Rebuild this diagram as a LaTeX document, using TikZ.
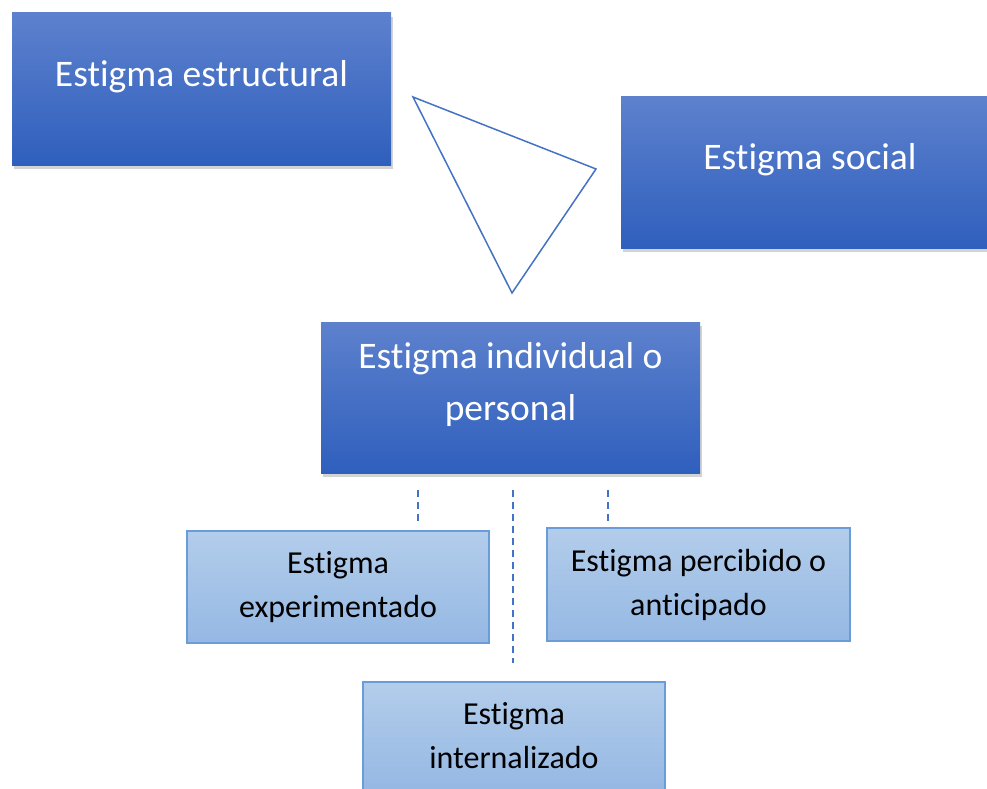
\documentclass[tikz,border=0pt]{standalone}
\usepackage{fontspec}
\setmainfont[RawFeature={-liga;-clig;-calt;-dlig}]{Carlito}
\usetikzlibrary{shadows}
\definecolor{darktop}{HTML}{5D81CD}
\definecolor{darkbot}{HTML}{2F5FBD}
\definecolor{lighttop}{HTML}{B3CDEB}
\definecolor{lightbot}{HTML}{95B8E3}
\definecolor{lightline}{HTML}{6A9CDA}
\definecolor{accent}{HTML}{4472C4}
\begin{document}
\begin{tikzpicture}
  [x=1pt,y=-1pt]

  \tikzstyle{darkbox} = [rectangle, draw=none, top color=darktop, bottom color=darkbot,
                         drop shadow={opacity=0.35, shadow xshift=2pt, shadow yshift=-4pt}]
  \tikzstyle{darktext} = [text=white, align=center, font=\fontsize{37.5}{52}\selectfont]
  \tikzstyle{lightbox} = [rectangle, draw=lightline, line width=1.2pt, top color=lighttop,
                          bottom color=lightbot, align=center,
                          font=\fontsize{32}{44}\selectfont]
  \tikzstyle{joint}   = [accent, line width=1.2pt, dash pattern=on 7pt off 5pt]
  \tikzstyle{tri}     = [accent, line width=1.5pt, line join=miter]

  \useasboundingbox (0,0) rectangle (987,789);

  \node[darkbox, minimum width=379, minimum height=152] (estr) at (201.5,89) {};
  \node[darktext] (estrt) at ([yshift=12]estr.center) {Estigma estructural};

  \node[darkbox, minimum width=370, minimum height=151] (soc) at (806,172.5) {};
  \node[darktext] (soct) at (810,160) {Estigma social};

  \node[darkbox, minimum width=379, minimum height=151] (indiv) at (510.5,397.5) {};
  \node[darktext] (indivt) at ([yshift=13]indiv.center) {Estigma individual o\\personal};

  \node[lightbox, minimum width=302, minimum height=112] (exp) at (338,587)
        {Estigma\\experimentado};
  \node[lightbox, minimum width=303, minimum height=113] (perc) at (698.5,584.5)
        {Estigma percibido o\\anticipado};
  \node[lightbox, minimum width=302, minimum height=108] (intern) at (514,736)
        {Estigma\\internalizado};

  \coordinate (t1) at (413,97);
  \coordinate (t2) at (596,169);
  \coordinate (t3) at (512,293);
  \draw[tri] (t1) -- (t2) -- (t3) -- cycle;

  \coordinate (d1a) at (418,490);
  \coordinate (d1b) at (418,521);
  \coordinate (d2a) at (513,490);
  \coordinate (d2b) at (513,663);
  \coordinate (d3a) at (608,490);
  \coordinate (d3b) at (608,521);
  \draw[joint] (d1a) -- (d1b);
  \draw[joint] (d2a) -- (d2b);
  \draw[joint] (d3a) -- (d3b);
\end{tikzpicture}
\end{document}
